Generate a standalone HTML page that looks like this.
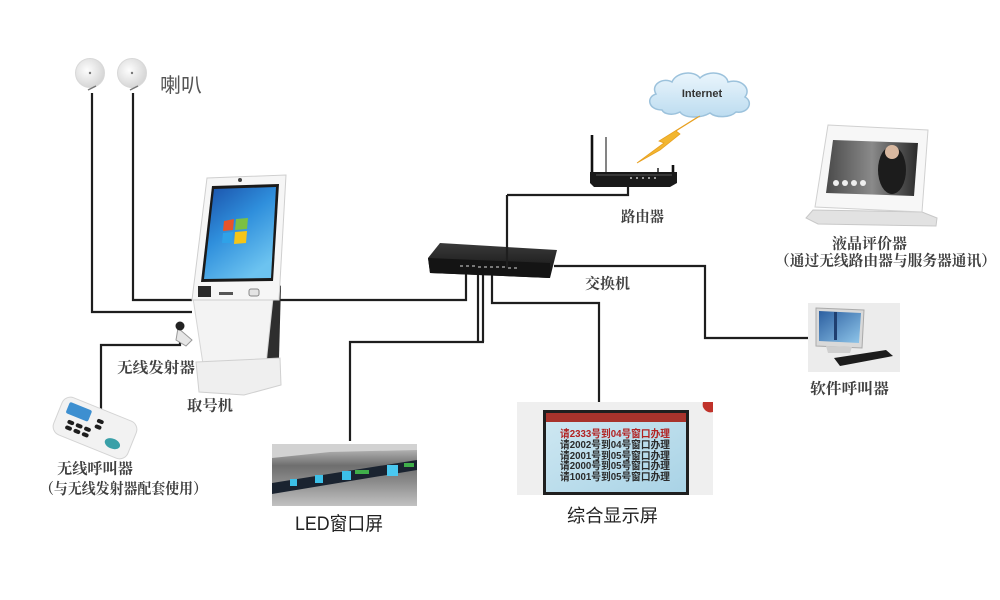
<!DOCTYPE html>
<html><head><meta charset="utf-8"><style>
html,body{margin:0;padding:0;background:#fff;}
svg{display:block;}
text{font-family:"Liberation Serif","Noto Serif CJK SC",serif;font-weight:bold;fill:#404040;}
.s{font-family:"Liberation Sans","Noto Sans CJK SC",sans-serif;}
</style></head><body>
<svg width="1000" height="600" viewBox="0 0 1000 600" xmlns="http://www.w3.org/2000/svg">
<defs>
 <linearGradient id="blue" x1="0" y1="0" x2="0.6" y2="1"><stop offset="0" stop-color="#1a4fa8"/><stop offset="0.5" stop-color="#2f8fdc"/><stop offset="1" stop-color="#6cc3f0"/></linearGradient>
 <radialGradient id="spk" cx="0.4" cy="0.4" r="0.7"><stop offset="0" stop-color="#fdfdfd"/><stop offset="1" stop-color="#d0d0d0"/></radialGradient>
 <linearGradient id="cloud" x1="0" y1="0" x2="0" y2="1"><stop offset="0" stop-color="#eaf5fc"/><stop offset="1" stop-color="#bcdcf0"/></linearGradient>
 <linearGradient id="sw" x1="0" y1="0" x2="0" y2="1"><stop offset="0" stop-color="#3a3a3a"/><stop offset="1" stop-color="#111"/></linearGradient>
 <linearGradient id="led" x1="0" y1="0" x2="0" y2="1"><stop offset="0" stop-color="#c9c9c9"/><stop offset="0.35" stop-color="#6e6e6e"/><stop offset="0.6" stop-color="#8a8a8a"/><stop offset="1" stop-color="#c2c2c2"/></linearGradient>
 <linearGradient id="scr" x1="0" y1="0" x2="1" y2="1"><stop offset="0" stop-color="#cfe8f2"/><stop offset="1" stop-color="#a9d3e6"/></linearGradient>
 <linearGradient id="lcd" x1="0" y1="0" x2="1" y2="0"><stop offset="0" stop-color="#4a4a4a"/><stop offset="0.5" stop-color="#8a8a8a"/><stop offset="1" stop-color="#2a2a2a"/></linearGradient>
 <linearGradient id="pc" x1="0" y1="0" x2="1" y2="1"><stop offset="0" stop-color="#2c5fa0"/><stop offset="1" stop-color="#8fc6ea"/></linearGradient>
</defs>

<!-- connectors -->
<g stroke="#1e1e1e" stroke-width="2.2" fill="none">
 <polyline points="92,93 92,312 192,312"/>
 <polyline points="133,93 133,300 192,300"/>
 <polyline points="101,410 101,345 180,345 180,336"/>
 <polyline points="277,300 466,300 466,272"/>
 <polyline points="350,441 350,342 484,342"/>
 <line x1="478" y1="272" x2="478" y2="342"/>
 <line x1="483" y1="272" x2="483" y2="342"/>
 <polyline points="492,272 492,303 599,303 599,402"/>
 <polyline points="554,266 705,266 705,338 810,338"/>
</g>

<!-- speakers -->
<circle cx="90" cy="73" r="14.5" fill="url(#spk)" stroke="#d8d8d8"/>
<circle cx="90" cy="73" r="1.2" fill="#777"/>
<path d="M88,90 L96,86" stroke="#777" stroke-width="1.5"/>
<circle cx="132" cy="73" r="14.5" fill="url(#spk)" stroke="#d8d8d8"/>
<circle cx="132" cy="73" r="1.2" fill="#777"/>
<path d="M130,90 L138,86" stroke="#777" stroke-width="1.5"/>
<text class="s" x="160" y="92" font-size="20" textLength="42" lengthAdjust="spacingAndGlyphs" style="font-weight:normal;fill:#555">喇叭</text>

<!-- kiosk -->
<polygon points="268,274 281,286 279,358 267,364" fill="#2e2e2e"/>
<polygon points="193,298 273,298 266,364 203,364" fill="#f3f3f3" stroke="#d6d6d6"/>
<polygon points="196,362 280,358 281,385 244,395 199,392" fill="#efefef" stroke="#d0d0d0"/>
<polygon points="207,178 286,175 279,300 192,300" fill="#f6f6f6" stroke="#cfcfcf"/>
<polygon points="212,186 279,184 273,281 201,282" fill="#1a1a1a"/>
<polygon points="214,189 276,187 271,278 204,279" fill="url(#blue)"/>
<polygon points="224,221 234,219 233,230 223,231" fill="#e8542a"/>
<polygon points="236,219 248,218 247,229 235,230" fill="#7bc043"/>
<polygon points="223,233 233,232 232,243 222,243" fill="#2fa2e8"/>
<polygon points="235,232 247,231 246,243 234,244" fill="#f5c518"/>
<circle cx="240" cy="180" r="2" fill="#444"/>
<rect x="198" y="286" width="13" height="11" fill="#2a2a2a"/>
<rect x="219" y="292" width="14" height="3" fill="#555"/>
<rect x="249" y="289" width="10" height="7" rx="2" fill="#e4e4e4" stroke="#888"/>
<text x="187" y="410.5" font-size="15" textLength="46" lengthAdjust="spacingAndGlyphs">取号机</text>

<!-- wireless transmitter -->
<polygon points="178,328 192,340 186,346 176,340" fill="#e6e6e6" stroke="#999"/>
<circle cx="180" cy="326" r="4.5" fill="#222"/>
<text x="117" y="372.5" font-size="15" textLength="78" lengthAdjust="spacingAndGlyphs">无线发射器</text>

<!-- wireless caller -->
<g transform="translate(95,428) rotate(22)">
 <rect x="-40" y="-20" width="80" height="40" rx="9" fill="#f2f2f2" stroke="#d4d4d4"/>
 <rect x="-33" y="-15" width="24" height="12" rx="2" fill="#3d8fd0"/>
 <g fill="#1e1e1e">
  <rect x="-28" y="2" width="7" height="4" rx="2"/><rect x="-19" y="2" width="7" height="4" rx="2"/><rect x="-10" y="2" width="7" height="4" rx="2"/>
  <rect x="-28" y="8" width="7" height="4" rx="2"/><rect x="-19" y="8" width="7" height="4" rx="2"/><rect x="-10" y="8" width="7" height="4" rx="2"/>
  <rect x="-1" y="-10" width="7" height="4" rx="2"/><rect x="-1" y="-4" width="7" height="4" rx="2"/>
 </g>
 <ellipse cx="22" cy="8" rx="8" ry="5" fill="#3aa0a8"/>
</g>
<text x="57" y="473.5" font-size="15" textLength="76" lengthAdjust="spacingAndGlyphs">无线呼叫器</text>
<text x="40" y="493.5" font-size="15" textLength="167" lengthAdjust="spacingAndGlyphs">（与无线发射器配套使用）</text>

<!-- switch -->
<polygon points="440,243 557,250 550,278 430,273 428,258" fill="url(#sw)"/>
<polygon points="428,258 550,263 550,278 430,273" fill="#141414"/>
<g fill="#777">
 <rect x="460" y="265" width="3" height="2"/><rect x="466" y="265" width="3" height="2"/><rect x="472" y="265" width="3" height="2"/><rect x="478" y="266" width="3" height="2"/><rect x="484" y="266" width="3" height="2"/><rect x="490" y="266" width="3" height="2"/><rect x="496" y="266" width="3" height="2"/><rect x="502" y="266" width="3" height="2"/><rect x="508" y="267" width="3" height="2"/><rect x="514" y="267" width="3" height="2"/>
</g>
<line x1="507" y1="268" x2="507" y2="195" stroke="#1e1e1e" stroke-width="2.2"/>
<polyline points="507,195 628,195 628,186" stroke="#1e1e1e" stroke-width="2.2" fill="none"/>
<text x="585" y="288.5" font-size="15" textLength="45" lengthAdjust="spacingAndGlyphs">交换机</text>

<!-- router -->
<g stroke="#111" stroke-width="2.6">
 <line x1="592" y1="135" x2="592" y2="176"/>
 <line x1="606" y1="137" x2="606" y2="172" stroke="#666" stroke-width="1.6"/>
 <line x1="673" y1="165" x2="673" y2="180"/>
 <line x1="658" y1="168" x2="658" y2="174" stroke-width="1.4"/>
</g>
<polygon points="590,172 677,172 677,183 670,187 594,187 590,183" fill="#1a1a1a"/>
<line x1="596" y1="175" x2="672" y2="175" stroke="#555" stroke-width="1"/>
<g fill="#999"><rect x="630" y="177" width="2" height="2"/><rect x="636" y="177" width="2" height="2"/><rect x="642" y="177" width="2" height="2"/><rect x="648" y="177" width="2" height="2"/><rect x="654" y="177" width="2" height="2"/></g>
<text x="621" y="221.5" font-size="15" textLength="43" lengthAdjust="spacingAndGlyphs">路由器</text>

<!-- cloud -->
<path d="M662,110 C648,110 646,97 656,94 C650,84 664,77 672,82 C676,72 694,70 700,78 C708,70 726,72 728,82 C740,78 752,88 745,97 C754,102 748,114 736,112 C730,118 716,118 710,113 C700,119 684,118 680,112 C672,116 664,114 662,110 Z" fill="url(#cloud)" stroke="#9cc2dc" stroke-width="1.5"/>
<text class="s" x="702" y="97" font-size="11" text-anchor="middle" style="fill:#333">Internet</text>
<!-- lightning -->
<polygon points="700,116 676,131 680,134 660,150 637,163 664,143 659,141 696,118" fill="#f2b630" stroke="#e8a020" stroke-width="0.8"/>

<!-- LCD evaluator -->
<polygon points="813,210 922,212 937,218 936,226 818,224 806,218" fill="#e2e2e2" stroke="#c8c8c8"/>
<polygon points="828,125 928,130 922,212 815,207" fill="#f7f7f7" stroke="#d0d0d0"/>
<polygon points="833,140 918,143 914,196 826,193" fill="url(#lcd)"/>
<ellipse cx="892" cy="170" rx="14" ry="24" fill="#1c1c1c"/>
<circle cx="892" cy="152" r="7" fill="#d8b8a0"/>
<g fill="#eee"><circle cx="836" cy="183" r="3"/><circle cx="845" cy="183" r="3"/><circle cx="854" cy="183" r="3"/><circle cx="863" cy="183" r="3"/></g>
<text x="832" y="248.5" font-size="15" textLength="75" lengthAdjust="spacingAndGlyphs">液晶评价器</text>
<text x="775" y="265.5" font-size="15" textLength="221" lengthAdjust="spacingAndGlyphs">（通过无线路由器与服务器通讯）</text>

<!-- soft caller -->
<rect x="808" y="303" width="92" height="69" fill="#ececec"/>
<polygon points="816,308 864,310 862,348 816,346" fill="#d9d9d9" stroke="#aaa"/>
<polygon points="819,311 861,313 859,343 819,341" fill="url(#pc)"/>
<rect x="834" y="312" width="3" height="28" fill="#1f3f70"/>
<polygon points="826,346 852,347 850,353 828,353" fill="#cfcfcf"/>
<polygon points="834,358 886,350 893,356 840,366" fill="#1c1c1c"/>
<text x="810" y="393.5" font-size="15" textLength="79" lengthAdjust="spacingAndGlyphs">软件呼叫器</text>

<!-- LED screen -->
<rect x="272" y="444" width="145" height="62" fill="url(#led)"/>
<polygon points="272,444 417,444 417,450 330,452 272,458" fill="#d2d2d2"/>
<polygon points="272,483 417,460 417,470 272,494" fill="#1a2330"/>
<rect x="290" y="479" width="7" height="7" fill="#3cc0e8"/>
<rect x="315" y="475" width="8" height="8" fill="#3cc0e8"/>
<rect x="342" y="471" width="9" height="9" fill="#3cc0e8"/>
<rect x="355" y="470" width="14" height="4" fill="#3fae4a"/>
<rect x="387" y="465" width="11" height="11" fill="#4ac8f0"/>
<rect x="404" y="463" width="10" height="4" fill="#3fae4a"/>
<text class="s" x="295" y="530" font-size="19" textLength="88" lengthAdjust="spacingAndGlyphs" style="font-weight:normal;fill:#222">LED窗口屏</text>

<!-- combined display -->
<rect x="517" y="402" width="196" height="93" fill="#efefef"/>
<path d="M703,402 L713,402 L713,412 A8,8 0 0 1 703,402 Z" fill="#c0322a"/>
<rect x="543" y="410" width="146" height="85" fill="#1f1f1f"/>
<rect x="546" y="413" width="140" height="79" fill="url(#scr)"/>
<rect x="546" y="413" width="140" height="9" fill="#a8332c"/>
<g font-size="10.5">
 <text class="s" x="560" y="437" textLength="110" lengthAdjust="spacingAndGlyphs" style="fill:#b22222">请2333号到04号窗口办理</text>
 <text class="s" x="560" y="448" textLength="110" lengthAdjust="spacingAndGlyphs" style="fill:#2a2a2a">请2002号到04号窗口办理</text>
 <text class="s" x="560" y="459" textLength="110" lengthAdjust="spacingAndGlyphs" style="fill:#2a2a2a">请2001号到05号窗口办理</text>
 <text class="s" x="560" y="469" textLength="110" lengthAdjust="spacingAndGlyphs" style="fill:#2a2a2a">请2000号到05号窗口办理</text>
 <text class="s" x="560" y="480" textLength="110" lengthAdjust="spacingAndGlyphs" style="fill:#2a2a2a">请1001号到05号窗口办理</text>
</g>
<text class="s" x="567" y="522" font-size="18" textLength="91" lengthAdjust="spacingAndGlyphs" style="font-weight:normal;fill:#222">综合显示屏</text>
</svg>
</body></html>
